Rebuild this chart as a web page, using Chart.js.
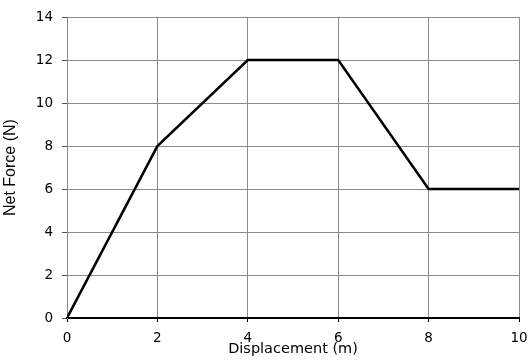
<!DOCTYPE html>
<html>
<head>
<meta charset="utf-8">
<script src="https://cdn.jsdelivr.net/npm/chart.js@4"></script>
<style>
  html, body { margin: 0; padding: 0; background: #fff; }
  #wrap { width: 529px; height: 360px; }
</style>
</head>
<body>
<div id="wrap"><canvas id="forceChart"></canvas></div>
<script>
// displacement (m) and net force (N)
const displacement = [0, 2, 4, 6, 8, 10];
const netForce = [0, 8, 12, 12, 6, 6];

const xTicks = [0, 2, 4, 6, 8, 10];
const yTicks = [0, 2, 4, 6, 8, 10, 12, 14];

const points = displacement.map((d, i) => ({ x: d, y: netForce[i] }));

const tickFont = { family: 'DejaVu Sans, Verdana, sans-serif', size: 13.5 };

new Chart(document.getElementById('forceChart'), {
    type: 'line',
    data: {
        datasets: [{
            data: points,
            borderColor: '#000',
            borderWidth: 2.5,
            pointRadius: 0,
            tension: 0,
            fill: false
        }]
    },
    options: {
        responsive: true,
        maintainAspectRatio: false,
        animation: false,
        layout: { padding: { top: 16, right: 10, left: 0, bottom: 0 } },
        plugins: {
            legend: { display: false },
            tooltip: { enabled: false }
        },
        scales: {
            x: {
                type: 'linear',
                min: 0,
                max: 10,
                afterBuildTicks: (scale) => { scale.ticks = xTicks.map(v => ({ value: v })); },
                afterFit: (scale) => {
                    scale.height = 42;
                    scale.paddingLeft = 0;
                    scale.paddingRight = 0;
                },
                grid: { color: '#8a8a8a', lineWidth: 1, tickLength: 4, tickColor: '#000' },
                border: { color: '#000', width: 2 },
                ticks: { color: '#000', font: tickFont, padding: 8, maxRotation: 0 },
                title: {
                    display: true, text: 'Displacement (m)', color: '#000',
                    font: { family: 'DejaVu Sans, Verdana, sans-serif', size: 14.5 },
                    padding: { top: 0, bottom: 2 }
                }
            },
            y: {
                min: 0,
                max: 14,
                afterBuildTicks: (scale) => { scale.ticks = yTicks.map(v => ({ value: v })); },
                afterFit: (scale) => { scale.width = 67; },
                grid: { color: '#8a8a8a', lineWidth: 1, tickLength: 5, tickColor: '#555' },
                border: { color: '#8a8a8a', width: 1 },
                ticks: { color: '#000', font: tickFont, padding: 9 },
                title: {
                    display: true, text: 'Net Force (N)', color: '#000',
                    font: { family: 'Liberation Sans, Arial, sans-serif', size: 16 },
                    padding: { top: 1, bottom: 0 }
                }
            }
        }
    }
});
</script>
</body>
</html>
